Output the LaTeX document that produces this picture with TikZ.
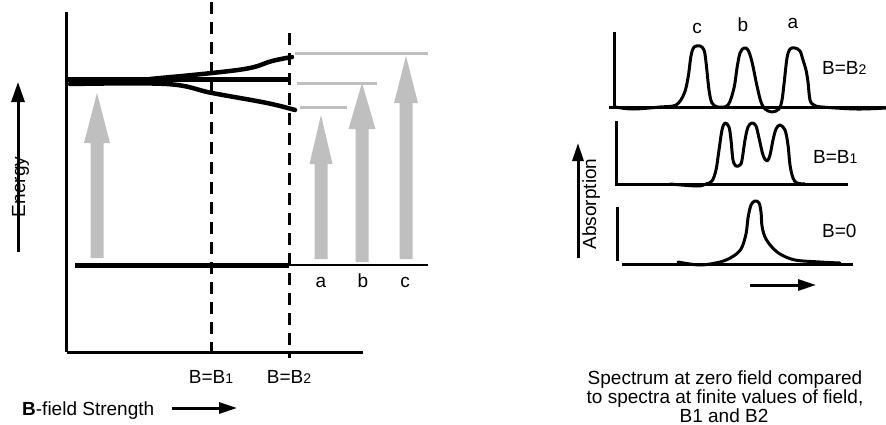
\documentclass[tikz,border=0pt]{standalone}
\usepackage{fontspec}
\setmainfont{Liberation Sans}
\usetikzlibrary{arrows.meta}
\definecolor{lvgray}{gray}{0.75}
\newcommand\sdig[1]{{\fontsize{14}{14}\selectfont #1}}
\newcommand\garr[5]{% x, bottom, head base, tip, half head width
  \fill[lvgray] (#1-6.5,#2) -- (#1-6.5,#3) -- (#1-#5,#3) -- (#1,#4) -- (#1+#5,#3) -- (#1+6.5,#3) -- (#1+6.5,#2) -- cycle;}
\tikzset{
  txt/.style={inner sep=0pt, font=\fontsize{19}{19}\selectfont},
  axisline/.style={line width=3pt},
  level/.style={line width=5pt},
  splitline/.style={line width=4.5pt, line cap=round},
  fieldline/.style={line width=3pt, dash pattern=on 12pt off 8pt},
  glevel/.style={line width=3pt, draw=lvgray},
  spec/.style={line width=3pt, line join=round, line cap=round},
  pointer/.style={line width=3pt, -{Triangle[length=20pt,width=13pt]}},
  spointer/.style={line width=3pt, -{Triangle[length=18pt,width=11pt]}},
}
\begin{document}
\begin{tikzpicture}[x=1pt,y=-1pt]
\useasboundingbox (0,0) rectangle (886,424);

% ---------------- left panel ----------------
% axes
\coordinate (yTop) at (66,12);
\coordinate (orig) at (66,352);
\coordinate (xEnd) at (363,352);
\draw[axisline] (yTop) -- (orig);
\draw[axisline] (67,352) -- (xEnd);

% gray arrows (under the levels)
\garr{97}{258}{143}{93}{13}
\garr{321}{259}{164}{115}{11.5}
\garr{362}{262}{129}{83}{13.5}
\garr{406}{259}{103}{56}{12}

% gray split levels
\draw[glevel] (295,53) -- (428,53);
\draw[glevel] (297,83) -- (377,83);
\draw[glevel] (300,107) -- (347,107);

% excited level and splitting
\draw[level] (68,79) -- (290,79);
\draw[splitline] plot[smooth, tension=0.6] coordinates {(70,84) (167,84) (212,93) (267,103) (295,110)};
\draw[splitline] plot[smooth, tension=0.6] coordinates {(150,79) (212,73) (250,68) (272,61) (292,57)};

% ground level
\draw[level] (75,265) -- (289,265);
\draw[line width=2.5pt] (289,265) -- (428,265);

% field markers
\coordinate (b1t) at (211,2);
\coordinate (b1b) at (211,352);
\coordinate (b2t) at (289,33);
\coordinate (b2b) at (289,358);
\draw[fieldline] (b1t) -- (b1b);
\draw[fieldline] (b2t) -- (b2b);

% labels
\node[txt, anchor=base] (la) at (321,287) {a};
\node[txt, anchor=base] (lb) at (363,287) {b};
\node[txt, anchor=base] (lc) at (405,287) {c};
\node[txt, anchor=base] (lB1) at (211,383) {B=B\sdig{1}};
\node[txt, anchor=base] (lB2) at (289,383) {B=B\sdig{2}};
\node[txt, anchor=base west] (lfield) at (22,415) {\textbf{B}-field Strength};
\coordinate (fS) at (172,408);
\coordinate (fE) at (237,408);
\draw[spointer] (fS) -- (fE);

\node[txt, anchor=base, rotate=90] (lenergy) at (25,187) {Energy};
\coordinate (eS) at (18,252);
\coordinate (eE) at (18,82);
\draw[pointer] (eS) -- (eE);

% ---------------- right panel ----------------
% top spectrum B=B2
\draw[axisline] (614,32) -- (614,108);
\draw[axisline] (609,107) -- (886,107);
\draw[spec] plot[smooth, tension=0.55] coordinates {(615,107) (633,109) (660,107) (676,105) (684,94) (688,78) (691,56) (694,47) (700,46) (704,50) (706,62) (709,90) (712,103) (718,107) (728,105) (734,88) (737,68) (740,53) (744,48) (748,50) (752,62) (757,86) (761,102) (765,109) (772,112) (779,109) (782,100) (784,84) (787,58) (790,49) (795,48) (800,51) (803,60) (806,70) (808,82) (810,100) (814,105) (822,107) (857,109) (886,108)};
\node[txt, anchor=base] (c2) at (697,33) {c};
\node[txt, anchor=base] (b2) at (743,31) {b};
\node[txt, anchor=base] (a2) at (793,28) {a};
\node[txt, anchor=base west] (tB2) at (822,74) {B=B\sdig{2}};

% middle spectrum B=B1
\draw[axisline] (616,121) -- (616,184);
\draw[axisline] (615,184) -- (848,184);
\draw[spec] plot[smooth, tension=0.55] coordinates {(670,184) (697,186) (706,184) (712,181) (716,170) (719,150) (722,130) (725,123) (729,127) (731,140) (733,160) (736,166) (740,165) (742,160) (745,140) (748,127) (752,123) (756,126) (759,138) (763,155) (767,161) (770,155) (773,140) (776,129) (780,125) (785,130) (788,145) (790,165) (793,178) (797,183) (805,184)};
\node[txt, anchor=base west] (tB1) at (813,163) {B=B\sdig{1}};

% bottom spectrum B=0
\draw[axisline] (617,207) -- (617,261);
\draw[axisline] (622,264) -- (853,264);
\draw[spec] plot[smooth, tension=0.55] coordinates {(678,262) (700,265) (720,262) (732,257) (741,249) (746,234) (748,218) (751,205) (755,201) (759,203) (761,212) (762,226) (765,237) (771,246) (780,254) (795,260) (820,262) (840,263)};
\node[txt, anchor=base west] (tB0) at (822,237) {B=0};

% absorption axis
\node[txt, anchor=base, rotate=90] (labs) at (596,204) {Absorption};
\coordinate (aS) at (578,258);
\coordinate (aE) at (578,143);
\draw[spointer] (aS) -- (aE);

% frequency arrow
\coordinate (wS) at (750,285);
\coordinate (wE) at (816,285);
\draw[spointer] (wS) -- (wE);

% caption
\node[txt, anchor=base] (cap1) at (725,384) {Spectrum at zero field compared};
\node[txt, anchor=base] (cap2) at (725,403) {to spectra at finite values of field,};
\node[txt, anchor=base] (cap3) at (724,422) {B1 and B2};
\end{tikzpicture}
\end{document}
